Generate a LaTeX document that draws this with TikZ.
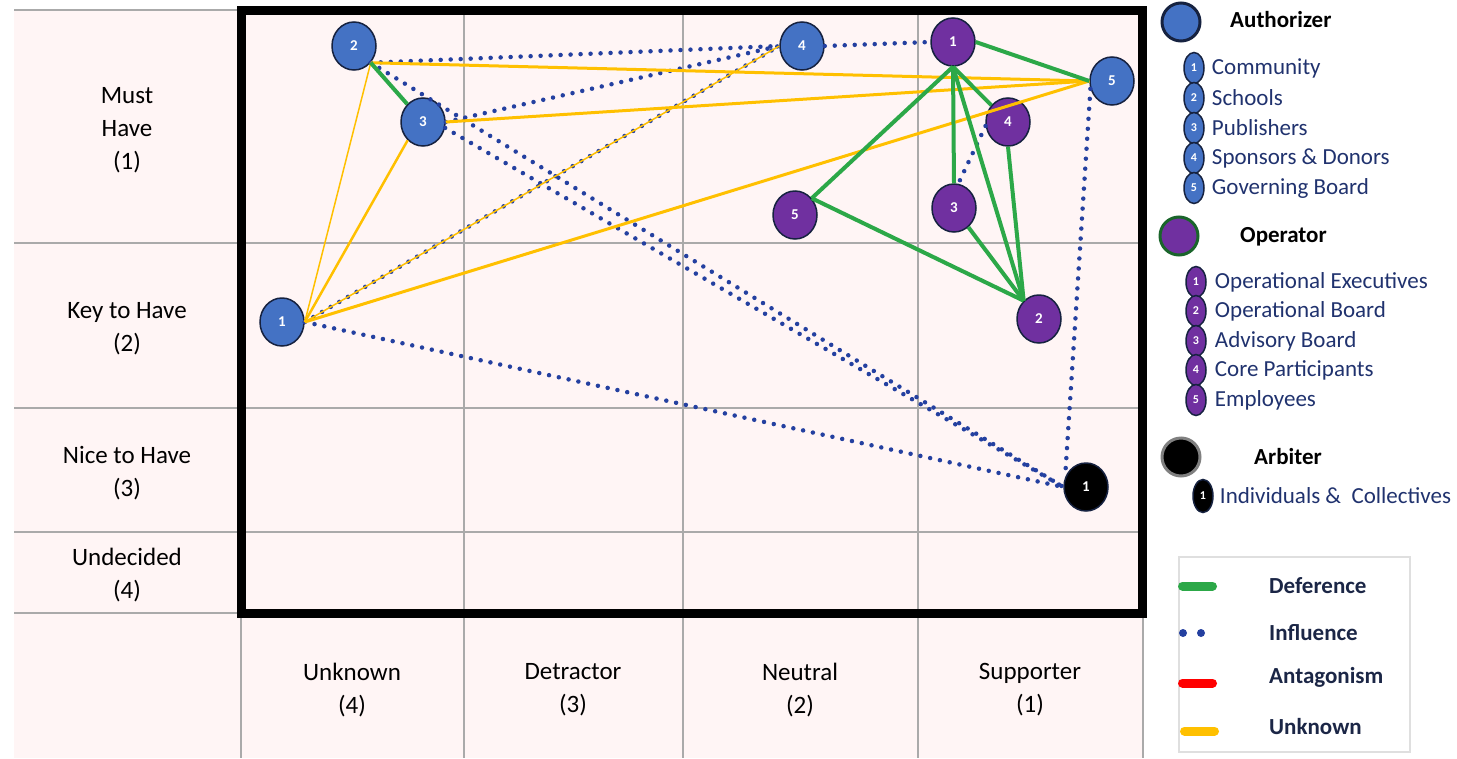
\documentclass[tikz,border=0pt]{standalone}
\usepackage{fontspec}
\setmainfont{Carlito}
\usetikzlibrary{shapes.geometric,positioning}
\definecolor{authblue}{RGB}{68,114,196}
\definecolor{operpurple}{RGB}{112,48,160}
\definecolor{navyline}{RGB}{22,34,64}
\definecolor{inflblue}{RGB}{36,64,160}
\definecolor{defgreen}{RGB}{44,168,72}
\definecolor{unkyellow}{RGB}{255,192,0}
\definecolor{antred}{RGB}{255,0,0}
\definecolor{cellpink}{RGB}{255,245,245}
\definecolor{gridgray}{RGB}{170,170,170}
\definecolor{itemnavy}{RGB}{32,50,110}
\definecolor{keynavy}{RGB}{27,38,70}
\begin{document}
\begin{tikzpicture}[x=1pt, y=-1pt,
	stake/.style={ellipse, draw=navyline, line width=1.5pt, minimum width=44pt, minimum height=48pt, inner sep=0pt, text=white, font=\fontsize{15}{15}\selectfont\bfseries},
	auth/.style={stake, fill=authblue}, oper/.style={stake, fill=operpurple}, arbi/.style={stake, fill=black},
	keystake/.style={ellipse, draw=navyline, line width=1.5pt, minimum width=20pt, minimum height=31pt, inner sep=0pt, text=white, font=\fontsize{12}{12}\selectfont\bfseries},
	keybig/.style={circle, line width=3pt, minimum size=38pt, inner sep=0pt},
	itemtxt/.style={inner sep=0pt, anchor=west, text=itemnavy, font=\fontsize{23}{23}\selectfont},
	headtxt/.style={inner sep=0pt, anchor=west, font=\fontsize{23}{23}\selectfont\bfseries},
	reltxt/.style={headtxt, text=keynavy},
	cell/.style={align=center, font=\fontsize{25}{33}\selectfont},
	defer/.style={defgreen, line width=4pt},
	infl/.style={inflblue, line width=4.5pt, line cap=round, dash pattern=on 0pt off 10pt},
	unkn/.style={unkyellow, line width=3pt},
	keyline/.style={line width=9pt, line cap=round}]
	\useasboundingbox (0,0) rectangle (1457,758);
	\fill[cellpink] (14,10) rectangle (1143,758);
	\foreach \y in {10,243,408,532,613} \draw[gridgray, line width=1.5pt] (14,\y)--(1143,\y);
	\foreach \x in {241,464,683,918,1143} \draw[gridgray, line width=1.5pt] (\x,10)--(\x,758);
	\draw[line width=9pt] (241,10) rectangle (1142,613);
	\node[cell] (must) at (127,130) {Must\\Have\\(1)};
	\node[cell] (key) at (127,329) {Key to Have\\(2)};
	\node[cell] (nice) at (127,473) {Nice to Have\\(3)};
	\node[cell] (undec) at (127,575) {Undecided\\(4)};
	\foreach \n/\x/\t/\v in {unk/352/Unknown/4, det/573/Detractor/3, neu/800/Neutral/2, sup/1030/Supporter/1}
	\node[cell] (\n) at (\x,690) {\t\\(\v)};
	\foreach \n/\x/\y/\t in {a1/282/322/1, a2/354/46/2, a3/423/122/3, a4/802/46/4, a5/1112/81/5}
	\node[auth] (\n) at (\x,\y) {\t};
	\foreach \n/\x/\y/\t in {o1/953/42/1, o2/1039/319/2, o3/954/208/3, o4/1008/122/4, o5/795/215/5}
	\node[oper] (\n) at (\x,\y) {\t};
	\node[arbi] (r1) at (1086,487) {1};
	\foreach \a/\b in {a2.-45/a4.west, a3.east/a4.west, a1.east/a4.west, a4.east/o1.west, a2.-45/r1.west, a3.-15/r1.west, a1.east/r1.west, a5.200/r1.155, o4.190/o3.80}
	\draw[infl] (\a)--(\b);
	\foreach \a/\b/\w in {a2.-45/a5.west/3pt, a3.east/a5.west/3pt, a1.east/a5.west/3pt, a1.east/a3.-130/2.5pt, a1.east/a2.-45/1.5pt, a1.east/a4.west/1.5pt}
	\draw[unkn, line width=\w] (\a)--(\b);
	\foreach \a/\b in {a2.-45/a3, o1.east/a5.west, o1.south/o5.45, o1.south/o3.north, o1.south/o4, o1.south/o2.130, o4.south/o2.130, o3/o2.130, o5.45/o2.130}
	\draw[defer] (\a)--(\b);
	\node[keybig, fill=authblue, draw=navyline] (kauth) at (1181,22) {};
	\node[headtxt] (kauthtxt) at (1230,20) {Authorizer};
	\foreach \i/\y/\t in {1/68/Community, 2/98/Schools, 3/128/Publishers, 4/158/Sponsors \& Donors, 5/188/Governing Board}{
		\node[keystake, fill=authblue] (ka\i) at (1194,\y) {\i};
		\node[itemtxt, right=7pt of ka\i] (kat\i) {\t};
	}
	\node[keybig, fill=operpurple, draw=defgreen!60!black] (koper) at (1179,236) {};
	\node[headtxt] (kopertxt) at (1240,237) {Operator};
	\foreach \i/\y/\t in {1/282/Operational Executives, 2/311/Operational Board, 3/341/Advisory Board, 4/370/Core Participants, 5/400/Employees}{
		\node[keystake, fill=operpurple] (ko\i) at (1196,\y) {\i};
		\node[itemtxt, right=8pt of ko\i] (kot\i) {\t};
	}
	\node[keybig, fill=black, draw=gray] (karb) at (1181,457) {};
	\node[headtxt] (karbtxt) at (1254,457) {Arbiter};
	\node[keystake, fill=black, minimum height=33pt] (kr1) at (1203,496) {1};
	\node[itemtxt, right=6pt of kr1] (krt1) {Individuals \& \ Collectives};
	\draw[gray!25, line width=2pt] (1179,557) rectangle (1410,752);
	\draw[keyline, defgreen] (1182.5,586)--(1212.5,586);
	\fill[inflblue] (1183,633) circle (4pt) (1201,633) circle (4pt);
	\draw[keyline, antred] (1182.5,683)--(1212.5,683);
	\draw[keyline, unkyellow] (1184.5,731)--(1214.5,731);
	\foreach \n/\y/\t in {def/586/Deference, inf/633/Influence, ant/677/Antagonism, unk/727/Unknown}
	\node[reltxt] (k\n) at (1269,\y) {\t};
\end{tikzpicture}
\end{document}
